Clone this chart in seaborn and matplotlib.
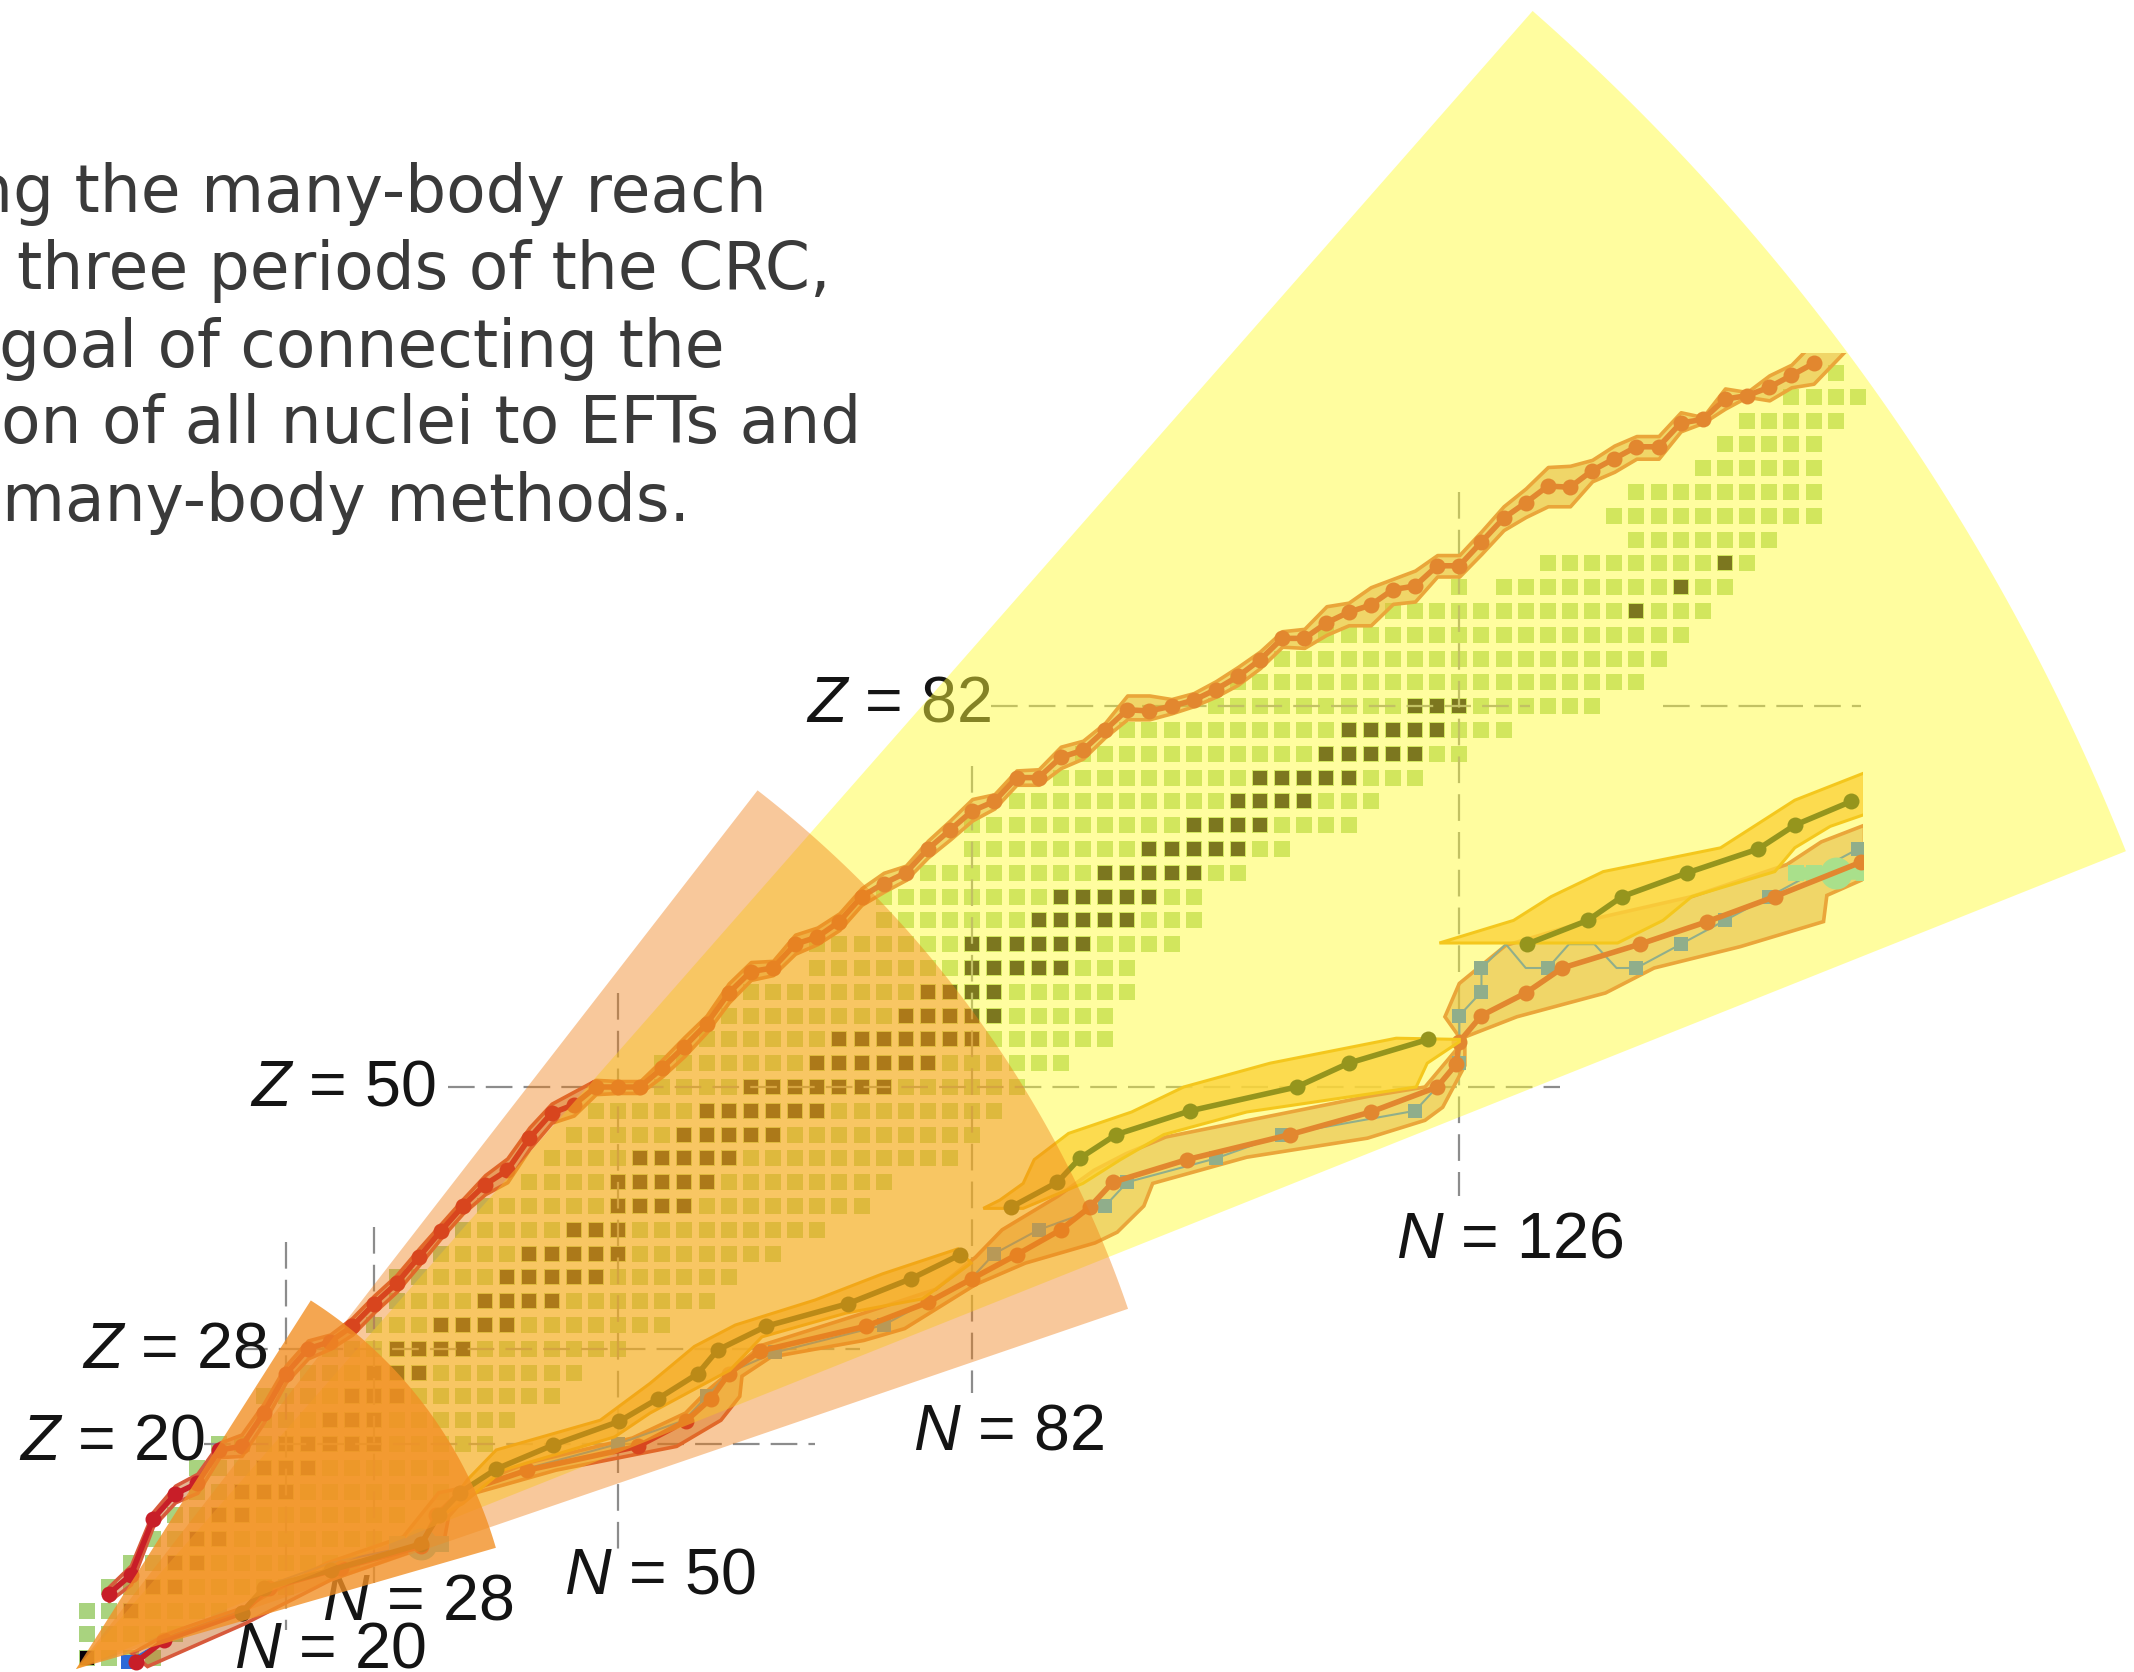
import matplotlib
matplotlib.use("Agg")
from matplotlib import pyplot as plt
from matplotlib.patches import Rectangle
import numpy as np
import pandas
import seaborn as sns

# Even-even nuclei: each row is one Z, first and last N of the row
row_z = [2, 4, 6, 8, 10, 12, 14, 16, 18, 20, 22, 24, 26, 28, 30, 32, 34, 36, 38, 40, 42, 44, 46, 48, 50, 52, 54, 56,
         58, 60, 62, 64, 66, 68, 70, 72, 74, 76, 78, 80, 82, 84, 86, 88, 90, 92, 92, 94, 96, 98, 100, 102, 104, 106, 108, 110]
row_first = [2, 2, 2, 4, 6, 8, 10, 12, 12, 14, 18, 18, 22, 24, 28, 30, 30, 34, 36, 38, 42, 44, 46, 48, 54, 54, 58, 60,
             62, 68, 68, 74, 74, 78, 82, 82, 86, 90, 92, 96, 104, 106, 110, 114, 120, 126, 130, 134, 142, 140, 142, 148, 150, 152, 156, 160]
row_last = [8, 10, 14, 20, 26, 28, 30, 34, 34, 38, 40, 44, 46, 50, 54, 58, 60, 64, 68, 72, 74, 80, 82, 84, 86, 90, 94, 94,
            96, 96, 100, 102, 102, 106, 110, 116, 118, 122, 126, 130, 138, 142, 144, 146, 148, 126, 150, 152, 154, 158, 158, 158, 158, 160, 162, 160]

# Stable nuclei, same layout
stable_z = [2, 6, 8, 10, 12, 14, 16, 18, 20, 22, 24, 26, 28, 30, 32, 34, 36, 38, 40, 42, 44, 46, 48, 50, 52, 54, 56,
            58, 60, 62, 64, 66, 68, 70, 72, 74, 76, 78, 80, 82, 90, 92, 94]
stable_first = [2, 6, 8, 10, 12, 14, 16, 18, 20, 24, 26, 28, 30, 34, 38, 40, 42, 46, 50, 50, 52, 56, 58, 62, 68, 70, 76,
                78, 82, 82, 88, 90, 94, 98, 102, 106, 108, 114, 116, 122, 142, 146, 150]
stable_last = [2, 6, 10, 12, 14, 16, 20, 22, 28, 28, 30, 32, 36, 40, 44, 48, 50, 50, 56, 58, 60, 64, 68, 74, 78, 82, 84,
               84, 90, 92, 96, 98, 102, 106, 108, 112, 116, 122, 124, 126, 142, 146, 150]

# Proton drip line (top branch)
top_n = [4, 6, 8, 10, 12, 14, 16, 18, 20, 22, 24, 26, 28, 30, 32, 34, 36, 38, 40, 42, 44, 46, 48, 50, 52, 54, 56, 58,
         60, 62, 64, 66, 68, 70, 72, 74, 76, 78, 80, 82, 84, 86, 88, 90, 92, 94, 96, 98, 100, 102, 104, 106, 108, 110,
         112, 114, 116, 118, 120, 122, 124, 126, 128, 130, 132, 134, 136, 138, 140, 142, 144, 146, 148, 150, 152, 154, 156, 158]
top_z = [7.4, 9, 13.7, 15.8, 16.7, 19.5, 19.8, 22.6, 25.9, 28, 28.6, 29.9, 31.8, 33.5, 35.7, 37.9, 40, 41.8, 43, 45.7,
         47.8, 48.5, 50, 50, 50, 51.6, 53.4, 55.3, 57.9, 59.7, 60, 62, 62.6, 63.9, 66, 67.1, 68, 70, 71.6, 73.2, 74, 76,
         76, 77.7, 78.3, 80, 81.7, 81.6, 82, 82.5, 83.4, 84.5, 85.9, 87.7,
         87.7, 89, 89.9, 90.5, 91.8, 92.1, 93.8, 93.8, 95.8, 97.8, 99.1, 100.5, 100.4, 101.8, 102.8, 103.8, 103.8, 105.8,
         106.1, 107.8, 108.1, 108.8, 109.8, 110.8]
top_upper = [8, 9.8, 14.3, 16.5, 17.5, 20.1, 20.8, 23.4, 26.6, 28.7, 29.2, 30.6, 32.5, 34.2, 36.4, 38.5, 40.6, 42.6, 44, 46.6,
             48.6, 49.6, 50.6, 50.5, 50.5, 52.3, 54.2, 56, 58.7, 60.5, 60.6, 62.8, 63.4, 64.6, 66.7, 68, 68.6, 70.7, 72.4, 74.2,
             74.6, 76.6, 76.7, 78.6, 79.1, 80.6, 82.9, 82.9, 82.6, 83.1, 84.1, 85.3, 86.6, 88.3,
             88.5, 90.4, 90.7, 92, 92.7, 93.4, 94.7, 94.7, 96.7, 98.8, 100.3, 102.1, 102.2, 102.7, 103.9, 104.7, 104.7,
             106.7, 106.3, 108.7, 108.4, 109.8, 110.7, 112.6]
top_lower = [6.8, 8.2, 13.1, 15.1, 15.9, 18.9, 19, 21.8, 25.2, 27.2, 28, 29.2, 31.1, 32.8, 35, 37.3, 39.4, 41, 42, 44.8,
             47, 47.6, 49.4, 49.5, 49.5, 50.9, 52.6, 54.6, 57.1, 59, 59.4, 61.2, 62, 63.2, 65.3, 66.4, 67.4, 69.3, 70.8, 72.4,
             73.4, 75.4, 75.4, 76.8, 77.6, 79.4, 80.9, 80.9, 81.4, 82, 82.8, 83.8, 85.2, 87,
             86.9, 88, 88.8, 88.8, 90.6, 90.8, 92.9, 92.9, 94.8, 96.8, 97.9, 98.8, 98.8, 100.9, 101.7, 102.8, 102.8,
             105.1, 105.8, 107, 108, 107.7, 108.8, 109.1]
top_end_n = [161]
top_end_upper = [114]
top_end_lower = [112]

# Neutron-rich branch, red line
low_n = [162.3, 154.5, 148.4, 142.3, 135.3, 132, 128, 126, 125.7, 124, 118, 110.7, 101.4, 94.7, 92.6, 90, 86, 82, 78,
         72.4, 62.8, 60, 58.4, 56.1, 51.8, 41.8, 35.7, 33.6, 32.2, 25, 18.5, 16, 9, 6.5]
low_z = [68.9, 66, 63.9, 62, 60, 57.9, 56, 53.8, 51.9, 50, 47.9, 46, 43.9, 42, 39.9, 38, 35.9, 33.9, 31.9,
         29.9, 27.8, 25.9, 23.8, 21.9, 19.8, 17.8, 15.9, 14, 11.4, 9.6, 7.9, 5.8, 3.5, 1.7]
low_edge_n = [162.6, 158.7, 155.6, 147, 138.5, 130.2, 126, 124.7, 126, 125.7, 122.9, 117.7, 102.7, 99.5, 95.9, 93, 89.7,
              84.7, 82.3, 78.7, 72.2, 63, 60.3, 58.1, 56.1, 51.3, 41.8, 36.4, 33.8, 30.6, 23.7, 16.3, 9.4, 6.1,
              7.5, 16.3, 24.1, 34.3, 34.7, 36.4, 44.4, 55.3, 59.3, 61, 61.2, 63.8, 72.2, 75.9, 82.3, 86.8, 93.1, 95.1,
              97.5, 98.3, 106.8, 117.7, 122.9, 124.5, 126.5, 126.5, 131.2, 139.2, 143.6, 151.4, 158.9, 159.2, 162.6]
low_edge_z = [72, 70.6, 68.7, 66, 64.2, 61.9, 58.7, 55.9, 54.2, 53.1, 50, 49.2, 46.4, 45.8, 44.4, 43, 40.8,
              38, 35.7, 33, 31, 28.3, 26.2, 24.5, 22.6, 20.5, 18.4, 16.4, 15.9, 12.2, 10, 6.3, 4.1, 2.4,
              1.3, 4.9, 8.6, 11.9, 13.9, 15.7, 17.8, 19.8, 22, 24, 25.7, 27.3, 28.7, 29.7, 33.4, 35.2, 36.9, 37.8,
              40, 41.9, 44.1, 45.7, 47.2, 48.3, 51.8, 54.2, 55.9, 57.9, 60, 61.8, 63.9, 66.1, 67.5]

# Olive line, three pieces with their bands
olive_a_n = [132.1, 137.6, 140.7, 146.6, 153, 156.3, 161.4]
olive_a_z = [62, 64, 66, 68, 70, 72, 74]
olive_a_edge_n = [124.2, 130.9, 134.3, 139, 149.6, 156.3, 162.6, 162.6, 159.5, 156.3, 154.5, 147, 144.4, 140.3]
olive_a_edge_z = [62.1, 64, 66, 68.1, 70.1, 74.1, 76.4, 72.9, 71.9, 70.1, 68.1, 66, 64, 62.1]
olive_b_n = [123.2, 116, 111.3, 101.7, 95, 91.7, 89.7, 85.5]
olive_b_z = [54, 52, 50, 48, 46, 44, 42, 39.9]
olive_b_edge_n = [126, 120.3, 108.9, 101.1, 96.4, 90.7, 87.6, 86.6, 84.5, 83, 86.6, 92, 95.4, 99.3, 106.8, 122.1, 123.1, 126]
olive_b_edge_z = [54, 54.1, 52, 50, 47.9, 46.1, 43.9, 41.9, 40.5, 39.8, 39.8, 41.9, 43.9, 46, 47.9, 50, 52, 53.8]
olive_c_n = [80.9, 76.5, 70.8, 63.4, 59, 57.2, 53.6, 50.1, 44.1, 39, 35.7, 33.8, 32.2, 24.1, 18, 16]
olive_c_z = [35.9, 33.9, 31.8, 29.9, 27.9, 25.9, 23.8, 21.9, 19.9, 17.9, 15.9, 14, 11.6, 9.4, 7.9, 5.8]
olive_c_edge_n = [80.7, 73.9, 67.8, 60.6, 56.9, 52.9, 48.4, 39, 36.4, 34, 36, 39.6, 49.7, 52.9, 60.1, 63, 70.6, 77.5, 81.9]
olive_c_edge_z = [36.4, 34.3, 32.1, 30, 28.2, 25.1, 22, 19.5, 17, 14, 15, 17.8, 20.6, 22.6, 26.2, 29, 31, 32.2, 35.2]

# Blue line, the second pair only has the squares
blue_n = [162, 154, 150, 146, 142, 140.2, 138.2, 135.9, 134, 132, 130.2, 128, 128, 126, 126, 126, 124, 122, 110, 104, 96,
          94, 88, 84, 82, 74, 64.2, 60, 58, 56, 50, 42, 36, 34, 32.2, 24, 18, 16, 10, 5.7]
blue_z = [70, 66, 64, 62, 60, 60, 62, 62, 60, 60, 62, 60, 58, 56, 54, 52, 50, 48, 46, 44, 42,
          40, 38, 36, 34, 30, 27.7, 26, 24, 22, 20, 18, 16, 14, 11.6, 10, 8, 6, 4, 1.7]
square_n = [162, 154, 150, 146, 142, 134, 128, 128, 126, 126, 122, 110, 104, 96, 94, 88, 84, 74, 64.2, 58, 50, 5.7]
square_z = [70, 66, 64, 62, 60, 60, 60, 58, 56, 52, 48, 46, 44, 42, 40, 38, 36, 30, 27.7, 24, 20, 1.7]
blob_n = [156.4, 158, 160, 162.6]
blob_z = [68, 68, 68, 68]
blob_mid_n = [160, 32.2]
blob_mid_z = [68, 11.6]
blob_low_n = [30, 34]
blob_low_z = [11.6, 11.6]

# Magic numbers: value, start and end of the dashed line
magic_z = [82, 82, 50, 28, 20]
magic_z_from = [83.7, 144.4, 34.6, 15.9, 12.6]
magic_z_to = [132.4, 162.3, 135.1, 71.9, 67.8]
magic_n = [126, 82, 50, 28, 20]
magic_n_from = [100, 77, 57.9, 38.2, 37]
magic_n_to = [40.8, 24.3, 11.1, 8.3, 4.4]

labels = ["$Z$ = 82", "$Z$ = 50", "$Z$ = 28", "$Z$ = 20", "$N$ = 126", "$N$ = 82", "$N$ = 50", "$N$ = 28", "$N$ = 20"]
label_x = [806, 250, 82, 19, 1396, 913, 564, 322, 234]
label_y = [721, 1106, 1368, 1459, 1258, 1450, 1593, 1619, 1668]

text_lines = ["ng the many-body reach", "three periods of the CRC,", "goal of connecting the",
              "on of all nuclei to EFTs and", "many-body methods."]
text_right = [767, 831, 725, 861, 690]
text_base = [212, 289, 367, 443, 521]

# Sectors of the three CRC periods
sector_r = [2207, 1112, 437]
sector_from = [21.75, 18.9, 16.1]
sector_to = [48.7, 52.2, 57.5]
sector_color = [(255/255, 251/255, 56/255), (240/255, 124/255, 17/255), (242/255, 144/255, 37/255)]
sector_alpha = [0.477, 0.42, 0.8]

PX_N = 11.07
PX_Z = 11.9
RED = (200/255, 30/255, 40/255)
RED_EDGE = (215/255, 90/255, 60/255)
RED_FILL = (200/255, 110/255, 43/255, 0.5)
OLIVE = (54/255, 57/255, 6/255)
OLIVE_EDGE = (235/255, 153/255, 6/255)
OLIVE_FILL = (249/255, 175/255, 62/255, 0.8)
BLUE = (44/255, 105/255, 216/255)
BLOB = (92/255, 200/255, 216/255)


def to_n(px):
    return 50 + (px - 618) / PX_N


def to_z(py):
    return 50 + (1087 - py) / PX_Z


def expand_rows(zs, firsts, lasts):
    rows = []
    for z, first, last in zip(zs, firsts, lasts):
        for n in range(first, last + 2, 2):
            rows.append({"N": n, "Z": z})
    return pandas.DataFrame(rows)


sns.set_theme(style="white")
plt.rcParams['font.family'] = ['Liberation Sans', 'DejaVu Sans']
plt.rcParams['mathtext.fontset'] = 'custom'
plt.rcParams['mathtext.it'] = 'Liberation Sans:italic'
plt.rcParams['mathtext.rm'] = 'Liberation Sans'

fig = plt.figure(figsize=(21.34, 16.72), dpi=100, facecolor="white")
ax = fig.add_axes([0, 0, 1, 1])
ax.set_xlim(to_n(0), to_n(2134))
ax.set_ylim(to_z(1672), to_z(0))

# Cells
sns.scatterplot(data=expand_rows(row_z, row_first, row_last), x="N", y="Z", marker="s", s=141, linewidth=0,
                color=(169/255, 211/255, 127/255), ax=ax, legend=False, zorder=1)
sns.scatterplot(data=expand_rows(stable_z, stable_first, stable_last), x="N", y="Z", marker="s", s=88, linewidth=0,
                color=(6/255, 0, 10/255), ax=ax, legend=False, zorder=1.1)

# Dashed guides
for z, a, b in zip(magic_z, magic_z_from, magic_z_to):
    ax.plot([a, b], [z, z], color=(0.55, 0.55, 0.55), linewidth=1.6, dashes=(12, 5), zorder=1.5)
for n, a, b in zip(magic_n, magic_n_from, magic_n_to):
    ax.plot([n, n], [a, b], color=(0.55, 0.55, 0.55), linewidth=1.6, dashes=(12, 5), zorder=1.5)

for label, x, y in zip(labels, label_x, label_y):
    ax.text(to_n(x), to_z(y), label, fontsize=46.5, color="#141414", ha="left", va="baseline", zorder=1.6)

# Everything from here on is cut at the frame of the original chart
frame = Rectangle((to_n(0), 0), 162.5 - to_n(0), 111.7, transform=ax.transData)
clipped = []

clipped.append(ax.fill_between(top_n + top_end_n, top_lower + top_end_lower, top_upper + top_end_upper,
                               facecolor=RED_FILL, edgecolor=RED_EDGE, linewidth=2.6, zorder=2))
clipped.extend(ax.fill(low_edge_n, low_edge_z, facecolor=RED_FILL, edgecolor=RED_EDGE, linewidth=2.6, zorder=2))

count = len(ax.lines)
sns.lineplot(x=blue_n, y=blue_z, sort=False, estimator=None, color=BLUE, linewidth=1.5, ax=ax, zorder=2.2)
sns.lineplot(x=square_n, y=square_z, sort=False, estimator=None, color=BLUE, linewidth=0, marker="s", markersize=9.5,
             markeredgewidth=0, ax=ax, zorder=2.3)
sns.lineplot(x=blob_n, y=blob_z, sort=False, estimator=None, color=BLOB, linewidth=9, marker="s", markersize=12,
             markeredgewidth=0, ax=ax, zorder=2.4)
sns.lineplot(x=blob_mid_n, y=blob_mid_z, sort=False, estimator=None, color=BLOB, linewidth=0, marker="o", markersize=23,
             markeredgewidth=0, ax=ax, zorder=2.4)
sns.lineplot(x=blob_low_n, y=blob_low_z, sort=False, estimator=None, color=BLOB, linewidth=9, marker="s", markersize=12,
             markeredgewidth=0, ax=ax, zorder=2.4)
sns.lineplot(x=top_n, y=top_z, sort=False, estimator=None, color=RED, linewidth=4, marker="o", markersize=11.5,
             markeredgewidth=0, ax=ax, zorder=2.6)
sns.lineplot(x=low_n, y=low_z, sort=False, estimator=None, color=RED, linewidth=4, marker="o", markersize=11.5,
             markeredgewidth=0, ax=ax, zorder=2.6)

for edge_n, edge_z, line_n, line_z in [(olive_a_edge_n, olive_a_edge_z, olive_a_n, olive_a_z),
                                       (olive_b_edge_n, olive_b_edge_z, olive_b_n, olive_b_z),
                                       (olive_c_edge_n, olive_c_edge_z, olive_c_n, olive_c_z)]:
    clipped.extend(ax.fill(edge_n, edge_z, facecolor=OLIVE_FILL, edgecolor=OLIVE_EDGE, linewidth=2.2, zorder=2.8))
    sns.lineplot(x=line_n, y=line_z, sort=False, estimator=None, color=OLIVE, linewidth=4, marker="o", markersize=11.5,
                 markeredgewidth=0, ax=ax, zorder=2.9)

clipped.extend(ax.lines[count:])
for artist in clipped:
    artist.set_clip_path(frame)

# The sectors lie over everything drawn so far
for r, t0, t1, color, alpha, z in zip(sector_r, sector_from, sector_to, sector_color, sector_alpha, [5, 5.1, 5.2]):
    t = np.radians(np.linspace(t0, t1, 200))
    sector_n = np.concatenate([[to_n(76)], to_n(76) + r * np.cos(t) / PX_N])
    sector_z = np.concatenate([[to_z(1669)], to_z(1669) + r * np.sin(t) / PX_Z])
    ax.fill(sector_n, sector_z, facecolor=color, alpha=alpha, linewidth=0, zorder=z)

for line, x, y in zip(text_lines, text_right, text_base):
    ax.text(to_n(x), to_z(y), line, fontsize=46.5, family="DejaVu Sans", color="#3a3a3a", ha="right", va="baseline", zorder=6)

ax.axis("off")
fig.savefig("out.png", dpi=100, facecolor="white")
